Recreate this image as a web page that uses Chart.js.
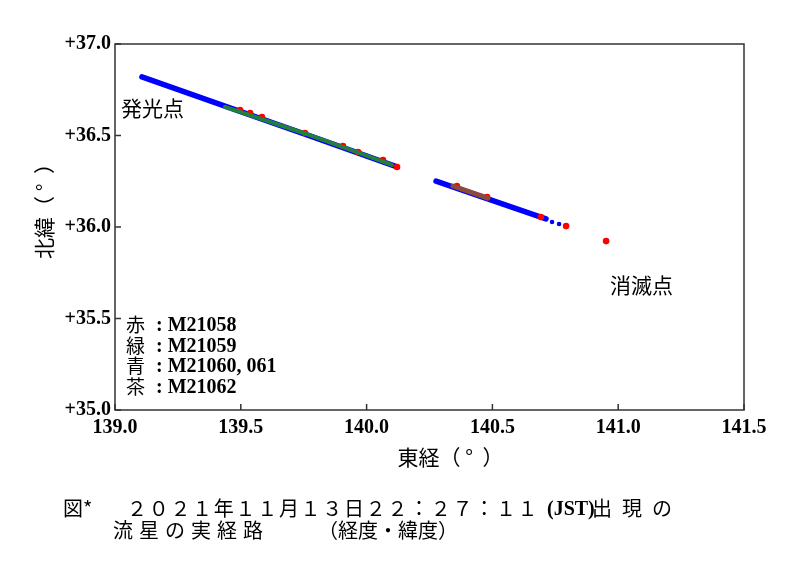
<!DOCTYPE html>
<html><head><meta charset="utf-8">
<script src="https://cdn.jsdelivr.net/npm/chart.js@4/dist/chart.umd.min.js"></script>
<style>
body{margin:0;background:#fff;}
#wrap{position:relative;width:800px;height:572px;}
canvas{position:absolute;left:0;top:0;}
.cap{position:absolute;font-family:"Noto Sans CJK JP";font-size:20px;color:#000;white-space:pre;line-height:22px;}
.b{font-family:"Liberation Serif";font-weight:bold;font-size:20px;}
</style></head><body>
<div id="wrap"><canvas id="c" width="800" height="572"></canvas>
<div class="cap" style="left:63px;top:497px">図*</div>
<div class="cap" style="left:127px;top:497px;letter-spacing:1.7px">２０２１年１１月１３日２２：２７：１１</div>
<div class="cap b" style="left:547px;top:497px">(JST)</div>
<div class="cap" style="left:592px;top:497px;letter-spacing:10px">出現の</div>
<div class="cap" style="left:113px;top:519px;letter-spacing:6px">流星の実経路</div>
<div class="cap" style="left:318px;top:519px">（経度・緯度）</div>
</div>
<script>
// ---- data ----
const xTicks = [139.0, 139.5, 140.0, 140.5, 141.0, 141.5];
const yTicks = [35.0, 35.5, 36.0, 36.5, 37.0];

const blueUpperLon = [139.107, 139.437, 139.755, 140.113];
const blueUpperLat = [36.820, 36.661, 36.508, 36.333];
const blueLowerLon = [140.276, 140.713];
const blueLowerLat = [36.251, 36.044];
const blueDotLon = [140.737, 140.765];
const blueDotLat = [36.027, 36.016];

const greenLon = [139.437, 139.755, 140.101];
const greenLat = [36.656, 36.511, 36.339];

const brownLon = [140.343, 140.482];
const brownLat = [36.224, 36.158];

const redLon = [139.497, 139.537, 139.584, 139.755, 139.906, 139.966, 140.065, 140.121,
                140.359, 140.479, 140.693, 140.793, 140.952];
const redLat = [36.639, 36.623, 36.601, 36.514, 36.443, 36.410, 36.366, 36.328,
                36.224, 36.164, 36.055, 36.005, 35.923];

const legendNames = ['赤', '緑', '青', '茶'];
const legendIds = ['M21058', 'M21059', 'M21060, 061', 'M21062'];
const startLabel = '発光点';
const endLabel = '消滅点';

const zip = (xs, ys) => xs.map((x, i) => ({x: x, y: ys[i]}));

const frame = {
  id: 'frame',
  afterDraw(chart) {
    const ctx = chart.ctx;
    const a = chart.chartArea;
    const xs = chart.scales.x, ys = chart.scales.y;
    ctx.save();
    ctx.strokeStyle = '#333';
    ctx.lineWidth = 1.5;
    ctx.strokeRect(a.left, a.top, a.right - a.left, a.bottom - a.top);
    ctx.beginPath();
    xTicks.forEach(v => { const p = xs.getPixelForValue(v); ctx.moveTo(p, a.bottom); ctx.lineTo(p, a.bottom - 6); });
    yTicks.forEach(v => { const p = ys.getPixelForValue(v); ctx.moveTo(a.left, p); ctx.lineTo(a.left + 6, p); });
    ctx.stroke();

    ctx.fillStyle = '#000';
    ctx.textBaseline = 'middle';
    ctx.textAlign = 'left';
    ctx.font = '21px "Noto Sans CJK JP"';
    ctx.fillText(startLabel, a.left + 6, a.top + 64);
    ctx.fillText(endLabel, a.left + 495, a.top + 241);

    legendNames.forEach((n, i) => {
      const y = a.top + 281 + i * 20.5;
      ctx.font = '19px "Noto Sans CJK JP"';
      ctx.fillText(n, a.left + 11, y);
      ctx.font = 'bold 20px "Liberation Serif"';
      ctx.fillText(': ' + legendIds[i], a.left + 41, y + 1);
    });
    ctx.restore();
  }
};

new Chart(document.getElementById('c'), {
  type: 'scatter',
  data: {
    datasets: [
      {label: '青', data: zip(blueUpperLon, blueUpperLat), showLine: true, borderColor: '#0000ff',
       borderWidth: 5.5, borderCapStyle: 'round', borderJoinStyle: 'round', pointRadius: 0, order: 5},
      {label: '青2', data: zip(blueLowerLon, blueLowerLat), showLine: true, borderColor: '#0000ff',
       borderWidth: 5.5, borderCapStyle: 'round', borderJoinStyle: 'round', pointRadius: 0, order: 5},
      {label: '青点', data: zip(blueDotLon, blueDotLat), showLine: false, backgroundColor: '#0000ff',
       borderWidth: 0, pointRadius: 2.3, order: 5},
      {label: '赤', data: zip(redLon, redLat), showLine: false, backgroundColor: '#ff0000',
       borderWidth: 0, pointRadius: 3.3, order: 3},
      {label: '緑', data: zip(greenLon, greenLat), showLine: true, borderColor: '#23803c',
       borderWidth: 4, borderCapStyle: 'round', pointRadius: 0, order: 2},
      {label: '茶', data: zip(brownLon, brownLat), showLine: true, borderColor: '#8b4a3a',
       borderWidth: 5, borderCapStyle: 'round', pointRadius: 0, order: 1}
    ]
  },
  options: {
    responsive: false,
    animation: false,
    layout: {padding: {left: 0, top: 44, right: 56, bottom: 90}},
    plugins: {legend: {display: false}, tooltip: {enabled: false}},
    scales: {
      x: {
        type: 'linear', min: 139.0, max: 141.5,
        grid: {display: false, drawTicks: false}, border: {display: false},
        afterBuildTicks: s => { s.ticks = xTicks.map(v => ({value: v})); },
        afterFit: s => { s.height = 72; },
        ticks: {color: '#000', padding: 6, maxRotation: 0, autoSkip: false,
                font: {family: 'Liberation Serif', weight: 'bold', size: 20},
                callback: v => Number(v).toFixed(1)},
        title: {display: true, text: '　　東経（ °  ）', color: '#000',
                font: {family: 'Noto Sans CJK JP', size: 21}, padding: {top: 0, bottom: 12}}
      },
      y: {
        type: 'linear', min: 35.0, max: 37.0,
        grid: {display: false, drawTicks: false}, border: {display: false},
        afterBuildTicks: s => { s.ticks = yTicks.map(v => ({value: v})); },
        afterFit: s => { s.width = 115; },
        ticks: {color: '#000', padding: 4, autoSkip: false,
                font: {family: 'Liberation Serif', weight: 'bold', size: 20},
                callback: v => '+' + Number(v).toFixed(1)},
        title: {display: true, text: '　　北緯（ °  ）', color: '#000',
                font: {family: 'Noto Sans CJK JP', size: 21}, padding: {top: 31, bottom: 0}}
      }
    }
  },
  plugins: [frame]
});
</script>
</body></html>
